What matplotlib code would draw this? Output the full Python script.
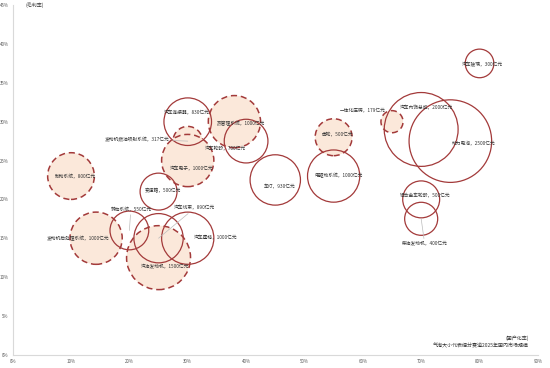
import matplotlib
matplotlib.use("Agg")
import matplotlib.pyplot as plt
import matplotlib.ticker as mticker

plt.rcParams["font.family"] = ["Noto Sans CJK SC", "DejaVu Sans"]

# 细分赛道: 国产化率(%), 毛利率(%), 2025年国内市场规模(亿元)
names = ["汽车玻璃", "一体化压铸", "汽车内饰总成", "动力电池", "齿轮", "电驱动系统",
         "车灯", "热管理系统", "汽车轮毂", "汽车连接器", "发动机燃油喷射系统", "汽车电子",
         "制动系统", "变速箱", "转向系统", "发动机后处理系统", "汽油发动机", "汽车线束",
         "汽车座椅", "铝合金车轮毂", "柴油发动机"]
localization = [80, 65, 70, 75, 55, 55, 45, 38, 40, 30, 30, 30,
                10, 25, 20, 14.3, 25, 25, 30, 70, 70]
gross_margin = [37.5, 30, 29, 27.5, 28, 23, 22.5, 30, 27.5, 30, 27.5, 25,
                23, 21, 16, 15, 12.5, 15, 15, 20, 17.5]
market_size = [300, 179, 2000, 2500, 500, 1000, 930, 1000, 700, 830, 317, 1000,
               800, 500, 550, 1000, 1500, 890, 1000, 500, 400]
highlight = [False, True, False, False, True, False, False, True, False, False, True, True,
             True, False, False, True, True, False, False, False, False]

# 标签相对气泡中心的偏移(像素, 向下为正) 以及是否画引线
LABEL_OFFSETS = [(3, 1), (-29, -12), (5, -22), (23, 2), (4, -2), (5, 0),
                 (4, 7), (7, 2), (-21, 8), (-1, -9), (-50, -2), (4, 8),
                 (4, 1), (4, -1), (1.5, -21), (-18, 0), (6, 9), (36, -30),
                 (28, 0), (4, -4), (3.5, 25)]
LEADERS = {"发动机燃油喷射系统", "转向系统", "汽车线束", "柴油发动机"}

EDGE = "#a33a3a"
FILL = "#fbe8da"
DPI = 100
PX2PT = 72 / DPI


def bubble_area(size):
    # 面积与市场规模成正比
    return 1.414 * size


def main():
    fig = plt.figure(figsize=(5.5, 3.68), dpi=DPI)
    ax = fig.add_axes([0.023, 0.036, 0.955, 0.950])

    # 先画虚线填充气泡, 再画实线空心气泡
    for flag in (True, False):
        idx = [i for i, h in enumerate(highlight) if h == flag]
        xs = [localization[i] for i in idx]
        ys = [gross_margin[i] for i in idx]
        ss = [bubble_area(market_size[i]) for i in idx]
        if flag:
            ax.scatter(xs, ys, s=ss, facecolor=FILL, edgecolor=EDGE,
                       linewidth=1.1, linestyle=(0, (4, 2.5)), zorder=2)
        else:
            ax.scatter(xs, ys, s=ss, facecolor="none", edgecolor=EDGE,
                       linewidth=0.9, zorder=3)

    for i, name in enumerate(names):
        dx, dy = LABEL_OFFSETS[i]
        label = f"{name}，{market_size[i]}亿元"
        arrow = None
        if name in LEADERS:
            arrow = dict(arrowstyle="-", color="#bbbbbb", lw=0.5,
                         shrinkA=0, shrinkB=0)
        ax.annotate(label, (localization[i], gross_margin[i]),
                    xytext=(dx * PX2PT, -dy * PX2PT), textcoords="offset points",
                    ha="center", va="center", fontsize=3.4, color="#333333",
                    arrowprops=arrow, zorder=4)

    ax.set_xlim(0, 90)
    ax.set_ylim(0, 45)
    ax.xaxis.set_major_locator(mticker.MultipleLocator(10))
    ax.yaxis.set_major_locator(mticker.MultipleLocator(5))
    ax.xaxis.set_major_formatter(mticker.FormatStrFormatter("%d%%"))
    ax.yaxis.set_major_formatter(mticker.FormatStrFormatter("%d%%"))
    ax.tick_params(length=0, labelsize=3.2, labelcolor="#555555", pad=3)
    ax.spines[["top", "right"]].set_visible(False)
    for side in ("left", "bottom"):
        ax.spines[side].set_color("#d9d9d9")
        ax.spines[side].set_linewidth(0.8)

    ax.text(0.0415, 1.0, "(毛利率)", transform=ax.transAxes, ha="center",
            va="center", fontsize=3.6, color="#333333")
    ax.text(0.983, 0.048, "(国产化率)", transform=ax.transAxes, ha="right",
            va="center", fontsize=3.6, color="#333333")
    ax.text(0.983, 0.026, "气泡大小代表细分赛道2025年国内市场规模", transform=ax.transAxes,
            ha="right", va="center", fontsize=3.6, color="#333333")

    fig.savefig("out.png", dpi=DPI)


if __name__ == "__main__":
    main()
